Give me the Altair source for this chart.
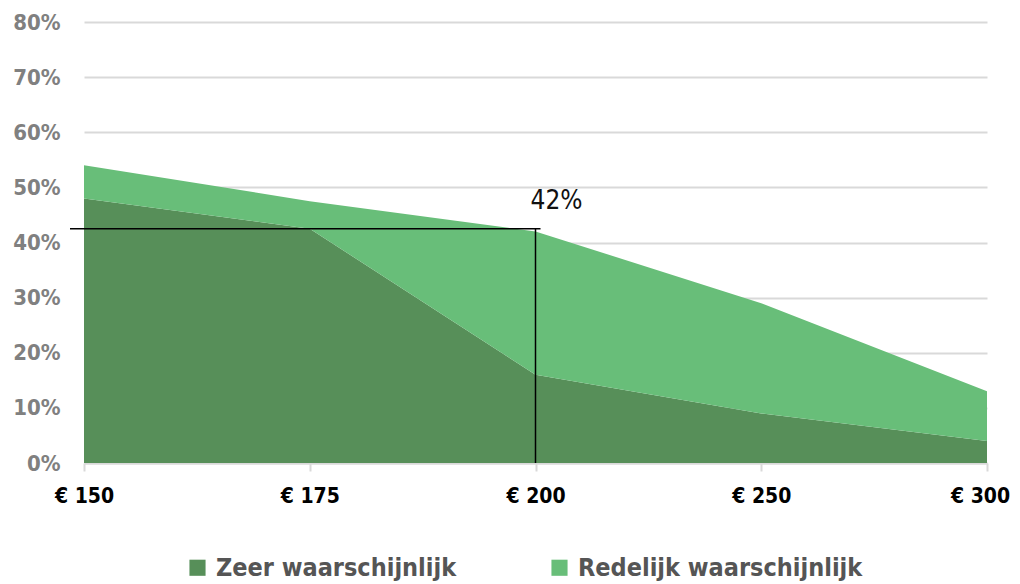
import altair as alt
import pandas as pd

categories = ["€ 150", "€ 175", "€ 200", "€ 250", "€ 300"]
zeer = [48.0, 42.5, 16.0, 9.0, 4.0]
redelijk = [6.0, 5.0, 26.0, 20.0, 9.0]
series_names = ["Zeer waarschijnlijk", "Redelijk waarschijnlijk"]
series_colors = ["#578f59", "#68be79"]
y_ticks = [0, 10, 20, 30, 40, 50, 60, 70, 80]

annot_x_start = "€ 150"
annot_x = "€ 200"
annot_value = 42.5
annot_label = "42%"

rows = []
for i, c in enumerate(categories):
    rows.append({"cat": c, "series": series_names[0], "value": zeer[i], "ord": 0})
    rows.append({"cat": c, "series": series_names[1], "value": redelijk[i], "ord": 1})
df = pd.DataFrame(rows)

FONT = "DejaVu Sans Condensed"

x_enc = alt.X("cat:N", sort=categories,
              scale=alt.Scale(type="point", padding=0, domain=categories),
              axis=alt.Axis(title=None, labelAngle=0, labelFont=FONT, labelFontSize=21,
                            labelFontWeight="bold", labelColor="#000000",
                            labelOffset={"condition": {"test": "datum.value === '€ 300'", "value": -7}, "value": 0},
                            domainColor="#d9d9d9", domainWidth=2, tickColor="#d9d9d9",
                            tickSize=8, tickWidth=2, labelPadding=14, grid=False))

areas = alt.Chart(df).mark_area(opacity=1).encode(
    x=x_enc,
    y=alt.Y("value:Q", stack="zero",
            scale=alt.Scale(domain=[0, 80], nice=False),
            axis=alt.Axis(title=None, values=y_ticks, labelExpr="datum.value + '%'",
                          labelFont=FONT, labelFontSize=22, labelFontWeight="bold",
                          labelColor="#808080", domain=False, ticks=False,
                          labelPadding=24, gridColor="#d9d9d9", gridWidth=2)),
    color=alt.Color("series:N",
                    scale=alt.Scale(domain=series_names, range=series_colors),
                    legend=alt.Legend(title=None, orient="none", legendX=101, legendY=533,
                                      direction="horizontal", symbolType="square",
                                      symbolSize=260, symbolStrokeWidth=0,
                                      labelFont=FONT, labelFontSize=25,
                                      labelFontWeight="bold", labelColor="#555555",
                                      columnPadding=90, symbolOffset=0,
                                      labelOffset=6, labelLimit=400)),
    order=alt.Order("ord:Q", sort="ascending"),
)

annot_df = pd.DataFrame({"x0": [annot_x_start], "x1": [annot_x], "v": [annot_value],
                         "zero": [0.0], "label": [annot_label]})

hrule = alt.Chart(annot_df).mark_rule(color="#000000", strokeWidth=1.5, xOffset=-14, x2Offset=5).encode(
    x=alt.X("x0:N", sort=categories), x2="x1:N", y="v:Q")
vrule = alt.Chart(annot_df).mark_rule(color="#000000", strokeWidth=1.5).encode(
    x=alt.X("x1:N", sort=categories), y="v:Q", y2="zero:Q")
label = alt.Chart(annot_df).mark_text(font=FONT, fontSize=26, fontWeight="normal", color="#111111",
                                      dx=21, dy=-28).encode(
    x=alt.X("x1:N", sort=categories), y="v:Q", text="label:N")

chart = alt.layer(areas, hrule, vrule, label).properties(
    width=903, height=441,
    autosize=alt.AutoSizeParams(type="none"),
    padding={"left": 76, "top": 14, "right": 25, "bottom": 120},
).configure_view(stroke=None)

chart.save("out.html", embed_options={"renderer": "svg", "actions": False})
